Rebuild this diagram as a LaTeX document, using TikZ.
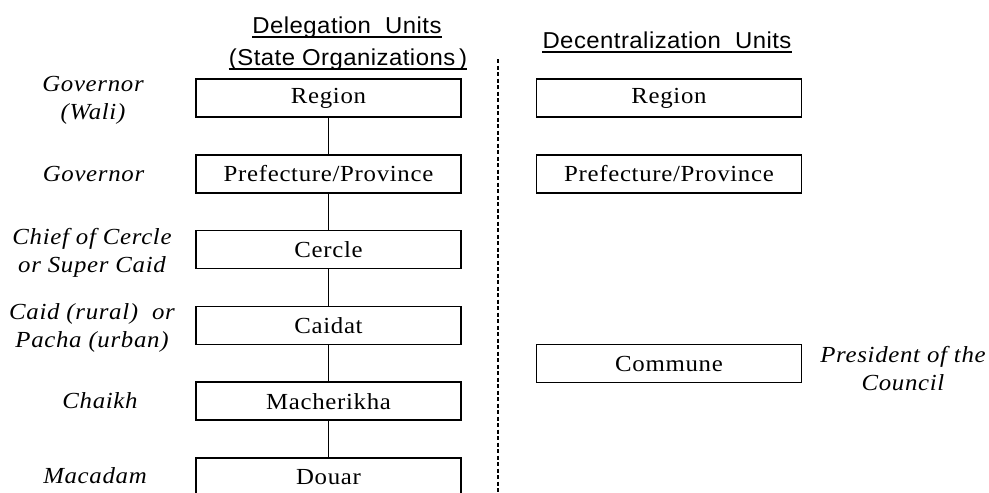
\documentclass[tikz,border=0pt]{standalone}
\usepackage{fontspec}
\setmainfont{Liberation Serif}
\newfontfamily\boxfont{Liberation Serif}[FakeStretch=1.08,LetterSpace=3]
\newfontfamily\headfont{Liberation Sans}[FakeStretch=1.04,LetterSpace=2]
\usetikzlibrary{positioning}

\begin{document}
\begin{tikzpicture}[x=1pt,y=-1pt,
    unitbox/.style={draw,line width=1.5pt,minimum width=265pt,minimum height=38pt,
      inner sep=0pt,font=\boxfont\fontsize{23}{27}\selectfont},
    role/.style={align=center,inner sep=0pt,font=\boxfont\itshape\fontsize{23}{28}\selectfont},
    heading/.style={inner sep=0pt,anchor=base,font=\headfont\fontsize{23}{28}\selectfont},
    link/.style={line width=1.5pt},
    node distance=36.3pt]
    \useasboundingbox (0,0) rectangle (989,493);

    % Headings
    \node[heading] (hdelA) at (347,33) {Delegation\ \ Units};
    \node[heading] (hdelB) at (348,65) {(State Organizations\,)};
    \node[heading] (hdec) at (667,48) {Decentralization\ \ Units};
    \foreach \h in {hdelA,hdelB,hdec}
        \draw[line width=1.4pt] ([yshift=-4pt]\h.base west) -- ([yshift=-4pt]\h.base east);

    % Delegation units (state)
    \node[unitbox] (dregion) at (328.5,98) {Region};
    \node[unitbox,below=of dregion] (dprov) {Prefecture/Province};
    \node[unitbox,below=of dprov] (dcercle) {Cercle};
    \node[unitbox,below=of dcercle] (dcaidat) {Caidat};
    \node[unitbox,below=of dcaidat] (dmacher) {Macherikha};
    \node[unitbox,below=of dmacher] (ddouar) {Douar};
    \foreach \a/\b in {dregion/dprov,dprov/dcercle,dcercle/dcaidat,dcaidat/dmacher,dmacher/ddouar}
        \draw[link] (\a) -- (\b);

    % Decentralization units
    \node[unitbox] (cregion) at (669,98) {Region};
    \node[unitbox,below=of cregion] (cprov) {Prefecture/Province};
    \node[unitbox] (ccommune) at (669,363.5) {Commune};

    % Divider
    \coordinate (divtop) at (498,59);
    \coordinate (divbot) at (498,493);
    \draw[line width=1.2pt,dash pattern=on 4pt off 2.5pt] (divtop) -- (divbot);

    % Officials
    \node[role] (rwali) at (93,100) {Governor\\(Wali)};
    \node[role] (rgov) at (93.5,174) {Governor};
    \node[role] (rchief) at (92,252.5) {Chief of Cercle\\or Super Caid};
    \node[role] (rcaid) at (92,327.5) {Caid (rural)\ \ or\\Pacha (urban)};
    \node[role] (rchaikh) at (100,401) {Chaikh};
    \node[role] (rmacadam) at (95,476) {Macadam};
    \node[role] (rpres) at (903,369) {President of the\\Council};
\end{tikzpicture}
\end{document}
